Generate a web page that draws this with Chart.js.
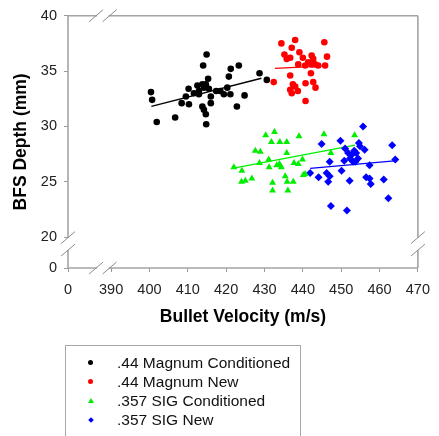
<!DOCTYPE html>
<html lang="en">
<head>
<meta charset="UTF-8">
<title>BFS Depth vs Bullet Velocity</title>
<script src="https://cdn.jsdelivr.net/npm/chart.js@4"></script>
<style>
  body { margin: 0; background: #fff; font-family: Arial, "Liberation Sans", sans-serif; }
  .wrap { position: relative; width: 439px; height: 436px; overflow: hidden; }
  #legend { position: absolute; left: 65px; top: 345px; width: 236px; height: 100px;
            border: 1px solid #a8a8a8; padding-top: 7px; box-sizing: border-box; }
  .item { position: relative; height: 19px; line-height: 19px; font-size: 15.5px; color: #111; }
  .item span.txt { position: absolute; left: 51px; top: 0; white-space: nowrap; }
  .mk { position: absolute; left: 22px; top: 7px; }
  .dot { width: 5px; height: 5px; border-radius: 50%; }
  .tri { width: 0; height: 0; border-left: 3px solid transparent; border-right: 3px solid transparent;
         border-bottom: 5px solid #00ee00; top: 7px; }
  .dia { width: 4px; height: 4px; transform: rotate(45deg); background: #0000ff; top: 7.5px; left: 22.5px; }
</style>
</head>
<body>
<div class="wrap">
  <canvas id="bfsChart" width="439" height="436"></canvas>
  <div id="legend">
    <div class="item"><i class="mk dot" style="background:#000"></i><span class="txt">.44 Magnum Conditioned</span></div>
    <div class="item"><i class="mk dot" style="background:#ff0000"></i><span class="txt">.44 Magnum New</span></div>
    <div class="item"><i class="mk tri"></i><span class="txt">.357 SIG Conditioned</span></div>
    <div class="item"><i class="mk dia"></i><span class="txt">.357 SIG New</span></div>
  </div>
</div>

<script>
// axis ticks (the first tick of each axis sits at the break and is labelled 0)
const xTicks = [390, 400, 410, 420, 430, 440, 450, 460, 470];
const yTicks = [20, 25, 30, 35, 40];
const xBreakMin = 378.76;
const yBreakMin = 17.21;

// .44 Magnum Conditioned
const magCondX = [400.4, 400.7, 401.9, 406.7, 408.4, 409.5, 410.2, 410.3, 412.5, 412.9, 413.8, 414.2, 414.7, 414.9, 414.0, 415.3, 413.8, 414.2, 414.7, 414.8, 416.0, 416.0, 412.9, 417.4, 418.5, 419.4, 420.3, 421.1, 420.7, 421.2, 423.3, 424.8, 422.8, 428.7, 430.6, 411.6, 415.5];
const magCondY = [33.1, 32.4, 30.4, 30.8, 32.1, 32.7, 33.4, 32.0, 33.7, 33.2, 33.8, 33.5, 33.8, 36.5, 35.5, 34.3, 31.8, 31.5, 31.1, 30.2, 32.1, 32.7, 32.9, 33.2, 33.2, 32.9, 33.5, 32.9, 34.5, 35.2, 35.5, 32.8, 31.8, 34.8, 34.2, 33.0, 33.4];
// .44 Magnum New
const magNewX = [434.4, 438.0, 437.1, 439.1, 435.2, 435.8, 436.7, 440.0, 442.3, 442.7, 441.4, 442.3, 443.2, 438.8, 440.6, 445.6, 446.3, 445.8, 444.0, 442.1, 432.4, 436.7, 437.4, 438.0, 436.7, 437.1, 438.7, 440.7, 442.7, 443.3, 440.7];
const magNewY = [37.5, 37.8, 37.1, 36.7, 36.5, 36.1, 36.2, 36.2, 36.4, 36.1, 35.8, 35.6, 35.6, 35.6, 35.5, 37.6, 36.3, 35.5, 35.5, 34.8, 34.0, 34.6, 33.8, 33.6, 33.3, 33.0, 33.2, 33.9, 34.0, 33.5, 32.3];
// .357 SIG Conditioned
const sigCondX = [422.0, 424.1, 424.0, 425.0, 426.7, 427.6, 428.9, 428.7, 430.3, 432.6, 431.8, 434.0, 435.8, 439.0, 431.1, 431.2, 432.1, 432.1, 433.9, 434.4, 433.2, 435.4, 435.9, 436.1, 435.8, 437.7, 438.8, 439.9, 437.5, 440.1, 440.6, 445.5, 447.3, 453.5];
const sigCondY = [26.3, 26.0, 25.0, 25.1, 25.3, 27.8, 27.7, 26.7, 29.2, 29.5, 28.6, 28.6, 28.6, 29.1, 27.0, 26.3, 24.9, 24.2, 26.6, 26.3, 26.5, 25.5, 25.0, 24.2, 27.6, 26.7, 26.6, 27.0, 25.0, 25.6, 25.7, 29.3, 27.6, 29.2];
// .357 SIG New
const sigNewX = [455.7, 449.8, 444.9, 454.6, 456.1, 463.3, 447.0, 453.7, 457.4, 464.1, 441.9, 444.1, 446.2, 447.0, 446.6, 450.1, 452.2, 456.5, 457.4, 457.7, 461.1, 462.3, 447.3, 451.5, 451.0, 451.8, 452.6, 453.4, 453.9, 452.3, 454.4, 453.1, 454.9, 450.8];
const sigNewY = [30.0, 28.7, 28.4, 28.5, 27.9, 28.3, 26.8, 26.8, 26.5, 27.0, 25.8, 25.4, 25.8, 25.5, 25.0, 26.0, 25.1, 25.4, 25.3, 24.8, 25.2, 23.5, 22.8, 22.4, 28.0, 27.6, 27.4, 27.8, 27.6, 27.1, 27.1, 26.8, 28.2, 26.9];

// linear fit lines (end points)
const magCondFitX = [400.5, 429.2], magCondFitY = [31.8, 34.35];
const magNewFitX = [432.7, 444.9], magNewFitY = [35.25, 35.45];
const sigCondFitX = [421.6, 453.6], sigCondFitY = [26.2, 28.3];
const sigNewFitX = [441.9, 464.6], sigNewFitY = [26.2, 26.9];

const FONT = 'Arial, "Liberation Sans", sans-serif';

function pts(xs, ys) {
    return xs.map((x, i) => ({ x: x, y: ys[i] }));
}

function scatterSet(label, xs, ys, color, style, r) {
    return { label: label, data: pts(xs, ys), backgroundColor: color, borderColor: color,
             borderWidth: 0, pointStyle: style, pointRadius: r, pointHoverRadius: r, showLine: false };
}

function fitSet(xs, ys, color) {
    return { label: '', data: pts(xs, ys), borderColor: color, borderWidth: 1.3,
             pointRadius: 0, showLine: true, fill: false };
}

// draws the axis frame with its // breaks
const breakFrame = {
    id: 'breakFrame',
    afterDraw(chart) {
        const ctx = chart.ctx;
        const a = chart.chartArea;
        const xs = chart.scales.x, ys = chart.scales.y;
        const bx1 = xs.getPixelForValue(390) - 15, bx2 = xs.getPixelForValue(390) - 1.5;
        const by1 = ys.getPixelForValue(20) + 0.5, by2 = ys.getPixelForValue(20) + 13;
        ctx.save();
        ctx.strokeStyle = '#a4a4a4';
        ctx.lineWidth = 1.6;
        ctx.beginPath();
        // bottom + top
        [a.bottom, a.top].forEach(y => {
            ctx.moveTo(a.left, y); ctx.lineTo(bx1 + 1, y);
            ctx.moveTo(bx2 - 1, y); ctx.lineTo(a.right, y);
        });
        // left + right
        [a.left, a.right].forEach(x => {
            ctx.moveTo(x, a.top); ctx.lineTo(x, by1);
            ctx.moveTo(x, by2); ctx.lineTo(x, a.bottom);
        });
        ctx.stroke();
        ctx.lineWidth = 1;
        ctx.strokeStyle = '#8a8a8a';
        ctx.beginPath();
        [a.bottom, a.top].forEach(y => {
            [bx1, bx2].forEach(cx => { ctx.moveTo(cx - 7, y + 6); ctx.lineTo(cx + 7, y - 6); });
        });
        [a.left, a.right].forEach(x => {
            [by1, by2].forEach(cy => { ctx.moveTo(x - 7, cy + 6); ctx.lineTo(x + 7, cy - 6); });
        });
        ctx.stroke();
        ctx.restore();
    }
};

const ctx = document.getElementById('bfsChart').getContext('2d');
new Chart(ctx, {
    type: 'scatter',
    data: {
        datasets: [
            scatterSet('.44 Magnum Conditioned', magCondX, magCondY, '#000000', 'circle', 3.3),
            scatterSet('.44 Magnum New', magNewX, magNewY, '#ff0000', 'circle', 3.3),
            scatterSet('.357 SIG Conditioned', sigCondX, sigCondY, '#00ee00', 'triangle', 4),
            scatterSet('.357 SIG New', sigNewX, sigNewY, '#0000ff', 'rectRot', 4),
            fitSet(magCondFitX, magCondFitY, '#000000'),
            fitSet(magNewFitX, magNewFitY, '#ff0000'),
            fitSet(sigCondFitX, sigCondFitY, '#00ee00'),
            fitSet(sigNewFitX, sigNewFitY, '#0000ff')
        ]
    },
    options: {
        responsive: false,
        animation: false,
        events: [],
        layout: { padding: { left: 0, top: 15, right: 18, bottom: 106 } },
        plugins: { legend: { display: false }, tooltip: { enabled: false } },
        scales: {
            x: {
                type: 'linear', min: xBreakMin, max: 470,
                afterBuildTicks: s => { s.ticks = [xBreakMin].concat(xTicks).map(v => ({ value: v })); },
                afterFit: s => { s.height = 62; },
                ticks: { autoSkip: false, maxRotation: 0, padding: 9, color: '#222',
                         font: { family: FONT, size: 14.5 },
                         callback: v => v < xTicks[0] ? '0' : v },
                grid: { drawOnChartArea: false, drawTicks: true, tickLength: 4, color: '#999' },
                border: { display: false },
                title: { display: true, text: 'Bullet Velocity (m/s)', color: '#000',
                         font: { family: FONT, size: 17.5, weight: 'bold' }, padding: { top: 0, bottom: 2 } }
            },
            y: {
                type: 'linear', min: yBreakMin, max: 40,
                afterBuildTicks: s => { s.ticks = [yBreakMin].concat(yTicks).map(v => ({ value: v })); },
                afterFit: s => { s.width = 68; },
                ticks: { autoSkip: false, padding: 7, color: '#222',
                         font: { family: FONT, size: 14.5 },
                         callback: v => v < yTicks[0] ? '0' : v },
                grid: { drawOnChartArea: false, drawTicks: true, tickLength: 4, color: '#999' },
                border: { display: false },
                title: { display: true, text: 'BFS Depth (mm)', color: '#000',
                         font: { family: FONT, size: 17.5, weight: 'bold' }, padding: { top: 11, bottom: 0 } }
            }
        }
    },
    plugins: [breakFrame]
});
</script>
</body>
</html>
